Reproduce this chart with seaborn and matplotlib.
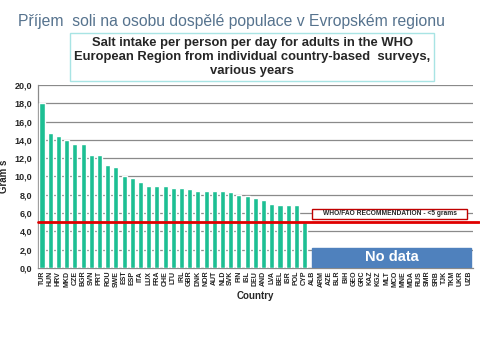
import matplotlib
matplotlib.use("Agg")
import matplotlib.pyplot as plt
from matplotlib.patches import Rectangle
from matplotlib.ticker import FuncFormatter, MultipleLocator
import seaborn as sns
import pandas as pd
import numpy as np

# countries with survey data (grams of salt per person per day)
countries = ["TUR", "HUN", "HRV", "MKD", "CZE", "BGR", "SVN", "PRT", "ROU", "SWE",
             "EST", "ESP", "ITA", "LUX", "FRA", "CHE", "LTU", "IRL", "GBR", "DNK",
             "NOR", "AUT", "NLD", "SVK", "FIN", "ISL", "DEU", "AND", "LVA", "BEL",
             "ISR", "POL", "CYP"]
salt = [18.0, 14.8, 14.45, 14.0, 13.5, 13.5, 12.4, 12.3, 11.2, 11.0,
        10.0, 9.8, 9.45, 9.0, 9.0, 9.0, 8.75, 8.75, 8.6, 8.45,
        8.45, 8.45, 8.45, 8.3, 8.0, 7.9, 7.65, 7.45, 7.0, 6.9,
        6.9, 6.9, 5.0]
# countries without data
no_data = ["ALB", "ARM", "AZE", "BLR", "BIH", "GEO", "GRC", "KAZ", "KGZ", "MLT",
           "MCO", "MNE", "MDA", "RUS", "SMR", "SRB", "TJK", "TKM", "UKR", "UZB"]
recommendation = 5.0

df = pd.DataFrame({"country": countries, "salt": salt})
order = countries + no_data

sns.set_style("white")
plt.rcParams["font.family"] = ["Liberation Sans", "DejaVu Sans"]

fig = plt.figure(figsize=(4.8, 3.6), dpi=100)
ax = fig.add_axes([0.079, 0.2556, 0.906, 0.5084])

sns.barplot(data=df, x="country", y="salt", order=order, color="#1DBF93",
            saturation=1, width=0.62, ax=ax, zorder=3)

ax.set_ylim(0, 20)
ax.set_xlim(-0.5, len(order) - 0.5)
ax.yaxis.set_major_locator(MultipleLocator(2))
ax.yaxis.set_major_formatter(FuncFormatter(lambda v, p: f"{v:.1f}".replace(".", ",")))
ax.grid(axis="y", color="#8a8a8a", linewidth=0.9, zorder=0)
ax.set_axisbelow(True)

for s in ["top", "right"]:
    ax.spines[s].set_visible(False)
for s in ["left", "bottom"]:
    ax.spines[s].set_color("#8a8a8a")
    ax.spines[s].set_linewidth(0.9)

ax.tick_params(axis="y", length=3, color="#8a8a8a", labelsize=6.5, pad=1)
for t in ax.get_yticklabels():
    t.set_fontweight("bold")
ax.tick_params(axis="x", length=0, labelsize=5, pad=2)
ax.set_xticks(range(len(order)))
ax.set_xticklabels(order, rotation=90, fontweight="bold", color="#222222")
ax.set_xticks(np.arange(len(order) + 1) - 0.5, minor=True)
ax.tick_params(axis="x", which="minor", length=3, color="#8a8a8a")

ax.set_xlabel("Country", fontsize=7, fontweight="bold", labelpad=3)
ax.set_ylabel("Gram s", fontsize=7, fontweight="bold", labelpad=4)

# WHO/FAO recommendation line
ax.axhline(recommendation, xmin=0, xmax=1.015, color="#e00000", linewidth=2.0,
           zorder=5, clip_on=False)
n = len(countries)
ax.add_patch(Rectangle((n - 0.05, recommendation + 0.3), len(no_data) - 1.1, 1.2,
                       facecolor="white", edgecolor="#c00000", linewidth=1, zorder=6))
ax.text(n - 0.05 + (len(no_data) - 1.1) / 2, recommendation + 0.9,
        "WHO/FAO RECOMMENDATION - <5 grams", ha="center", va="center",
        fontsize=4.8, fontweight="bold", zorder=7)

# no data block
ax.add_patch(Rectangle((n - 0.1, 0.15), len(no_data) - 0.6, 2.05,
                       facecolor="#4F81BD", edgecolor="#4F81BD", zorder=6))
ax.text(n - 0.1 + (len(no_data) - 0.6) / 2, 1.15, "No data", ha="center",
        va="center", color="white", fontsize=10.5, fontweight="bold", zorder=7)

# titles
fig.text(0.037, 0.94, "Příjem  soli na osobu dospělé populace v Evropském regionu",
         fontsize=11.3, color="#56738e", ha="left", va="center")
fig.text(0.525, 0.842,
         "Salt intake per person per day for adults in the WHO\n"
         "European Region from individual country-based  surveys,\n"
         "various years",
         ha="center", va="center", fontsize=9.4, fontweight="bold", linespacing=1.22,
         bbox=dict(boxstyle="square,pad=0.3", facecolor="white", edgecolor="#a8e4e4",
                   linewidth=1))

fig.savefig("out.png", dpi=100)
